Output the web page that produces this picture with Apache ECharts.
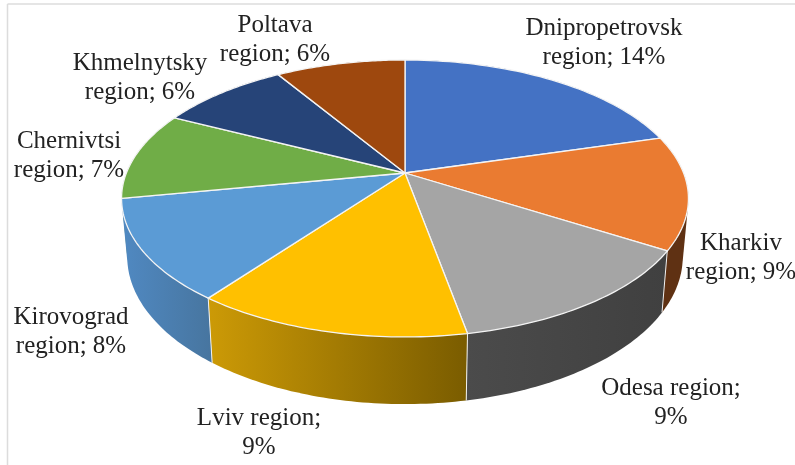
<!DOCTYPE html>
<html>
<head>
<meta charset="utf-8">
<style>html,body{margin:0;padding:0;background:#fff}#c{width:795px;height:465px}</style>
<script src="https://cdn.jsdelivr.net/npm/echarts@6/dist/echarts.min.js"></script>
</head>
<body>
<div id="c"></div>
<script>
const categories = ['Dnipropetrovsk region','Kharkiv region','Odesa region','Lviv region','Kirovograd region','Chernivtsi region','Khmelnytsky region','Poltava region'];
const values = [14, 9, 9, 9, 8, 7, 6, 6];
const labelTexts = ['Dnipropetrovsk\nregion; 14%','Kharkiv\nregion; 9%','Odesa region;\n9%','Lviv region;\n9%','Kirovograd\nregion; 8%','Chernivtsi\nregion; 7%','Khmelnytsky\nregion; 6%','Poltava\nregion; 6%'];
const topColors = ['#4472c4','#ea7b31','#a5a5a5','#ffc000','#5b9bd5','#70ad47','#264478','#9e480e'];
const wallColors = [['#35599a','#35599a'],['#5f3113','#5f3113'],['#4b4b4b','#404040'],['#cc9a06','#7a5c00'],['#5089c2','#47759f'],['#54823a','#54823a'],['#1c3359','#1c3359'],['#76360b','#76360b']];
const wallLayer = [0, 1, 1, 1, 1, 0, 0, 0];

// Layout of the tilted disc
const cx = 405, cy = 173, A = 278.6, B = 133.8, K = 0.184;
const labelAnchor = [[604,43],[741,258],[671,403],[259,433],[71,332],[69,156],[140,78],[275,40]];

const total = values.reduce((a, b) => a + b, 0);
const starts = [];
values.reduce((acc, v, i) => { starts[i] = acc; return acc + v; }, 0);

function rim(theta) {
  const u = Math.sin(theta), v = Math.cos(theta), d = 1 + K * v;
  return [cx + A * u / d, cy - B * v / d];
}
function lower(p) {
  return [cx + 0.98 * (p[0] - cx), 402 + 1.065 * (p[1] - 335)];
}
function arc(i) {
  const a0 = starts[i] / total * 2 * Math.PI;
  const a1 = (starts[i] + values[i]) / total * 2 * Math.PI;
  const pts = [];
  const n = 48;
  for (let k = 0; k <= n; k++) pts.push(rim(a0 + (a1 - a0) * k / n));
  return pts;
}
// Outline of the side wall: the convex hull of its upper and lower rim.
function hull(points) {
  const p = points.slice().sort((a, b) => a[0] - b[0] || a[1] - b[1]);
  const cross = (o, a, b) => (a[0] - o[0]) * (b[1] - o[1]) - (a[1] - o[1]) * (b[0] - o[0]);
  const half = list => {
    const h = [];
    list.forEach(q => {
      while (h.length > 1 && cross(h[h.length - 2], h[h.length - 1], q) <= 0) h.pop();
      h.push(q);
    });
    h.pop();
    return h;
  };
  return half(p).concat(half(p.slice().reverse()));
}

const chart = echarts.init(document.getElementById('c'), null, {renderer: 'canvas'});
const slices = categories.map((name, i) => ({name: name, value: values[i]}));

chart.setOption({
  animation: false,
  backgroundColor: '#ffffff',
  graphic: [
    {type: 'line', silent: true, shape: {x1: 7.5, y1: 4, x2: 795, y2: 4}, style: {stroke: '#dcdcdc', lineWidth: 1.5}},
    {type: 'line', silent: true, shape: {x1: 7.5, y1: 4, x2: 7.5, y2: 465}, style: {stroke: '#dcdcdc', lineWidth: 1.5}}
  ],
  series: [
    {
      type: 'custom', name: 'walls', coordinateSystem: 'none', data: slices, z: 1,
      renderItem: function (params) {
        const i = params.dataIndex, top = arc(i), bottom = top.map(lower);
        const children = [{
          type: 'polygon', z2: wallLayer[i],
          shape: {points: hull(top.concat(bottom))},
          style: {fill: {type: 'linear', x: 0, y: 0, x2: 1, y2: 0, colorStops: [
            {offset: 0, color: wallColors[i][0]}, {offset: 1, color: wallColors[i][1]}]}}
        }];
        if (wallLayer[i] && wallLayer[i - 1]) {
          children.push({
            type: 'line', z2: 5,
            shape: {x1: top[0][0], y1: top[0][1], x2: bottom[0][0], y2: bottom[0][1]},
            style: {stroke: '#f2f2f2', lineWidth: 1}
          });
        }
        return {type: 'group', children: children};
      }
    },
    {
      type: 'custom', name: 'tops', coordinateSystem: 'none', data: slices, z: 2,
      renderItem: function (params) {
        const i = params.dataIndex;
        return {
          type: 'polygon',
          shape: {points: [[cx, cy]].concat(arc(i))},
          style: {fill: topColors[i], stroke: '#f4f4f4', lineWidth: 1.3, lineJoin: 'round'}
        };
      }
    },
    {
      type: 'custom', name: 'labels', coordinateSystem: 'none', data: slices, z: 3,
      renderItem: function (params) {
        const i = params.dataIndex;
        return {
          type: 'text',
          x: labelAnchor[i][0], y: labelAnchor[i][1],
          style: {
            text: labelTexts[i], fill: '#222222',
            font: '25px "Liberation Serif", "Times New Roman", serif',
            lineHeight: 29.5, align: 'center', verticalAlign: 'middle'
          }
        };
      }
    }
  ]
});
</script>
</body>
</html>
